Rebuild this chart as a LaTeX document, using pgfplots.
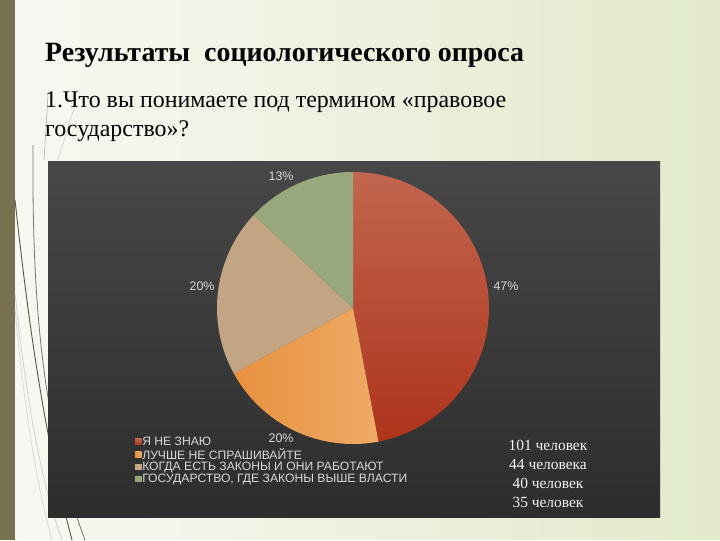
\documentclass[border=0pt]{standalone}
\usepackage{pgfplots}
\pgfplotsset{compat=1.18}
\usepackage{fontspec}
\setmainfont{Liberation Serif}
\setsansfont{Liberation Sans}
\definecolor{bgL}{HTML}{F8F8F3}
\definecolor{bgR}{HTML}{E2EACB}
\definecolor{oliveC}{HTML}{787150}
\definecolor{oliveD}{HTML}{5A5440}
\definecolor{panelT}{HTML}{474747}
\definecolor{panelB}{HTML}{2D2D2D}
\definecolor{redT}{HTML}{C2664F}
\definecolor{redB}{HTML}{AE331B}
\definecolor{orangeA}{HTML}{E8913F}
\definecolor{orangeB}{HTML}{EEAA66}
\definecolor{tanC}{HTML}{C3A583}
\definecolor{greenC}{HTML}{97A87D}
\definecolor{lbl}{HTML}{D9D9D9}
\begin{document}
\begin{tikzpicture}[x=1bp,y=1bp]
\shade[left color=bgL, right color=bgR] (0,0) rectangle (720,540);
\fill[oliveC] (0,0) rectangle (15,540);
% decorative curves
\draw[gray!35, line width=0.8bp] (15,247) .. controls (25,150) and (40,60) .. (62,0);
\draw[gray!30, line width=0.8bp] (15,232) .. controls (22,150) and (35,60) .. (52,0);
\draw[oliveD, line width=0.9bp] (15,340) .. controls (25,250) and (40,120) .. (72,0);
\draw[oliveD!80, line width=0.8bp] (33,395) .. controls (32,250) and (40,120) .. (85,0);
\draw[gray!70, line width=0.5bp] (48,445) -- (44,380);
\draw[gray!40, line width=0.5bp] (58,380) -- (75,435);
% panel
\shade[top color=panelT, bottom color=panelB] (48,22) rectangle (660,378);
% titles
\node[anchor=base west, inner sep=0pt, font=\bfseries\fontsize{28}{32}\selectfont] at (45,478) {Результаты\ \ социологического опроса};
\node[anchor=base west, inner sep=0pt, font=\fontsize{24}{28}\selectfont] at (45,432) {1.Что вы понимаете под термином «правовое};
\node[anchor=base west, inner sep=0pt, font=\fontsize{24}{28}\selectfont] at (45,403) {государство»?};
% counts
\foreach \yy/\tt in {89.5/101 человек, 70/44 человека, 51/40 человек, 32/35 человек}
  \node[anchor=base, inner sep=0pt, text=white!92!gray, font=\fontsize{15.5}{18}\selectfont] at (548,\yy) {\tt};
\coordinate (pc) at (353,232);
\begin{axis}[at={(pc)}, anchor=center, width=272bp, height=272bp, scale only axis,
  xmin=-1, xmax=1, ymin=-1, ymax=1, hide axis, clip=false,
  legend cell align=left,
  legend image code/.code={\fill[#1] (0bp,-3.2bp) rectangle (6.5bp,3.2bp);},
  legend style={at={(-0.3125,0.0368)}, anchor=north west, draw=none, fill=none,
    font=\sffamily\fontsize{12.2}{12.5}\selectfont, text=lbl, row sep=0.3bp,
    nodes={inner sep=0.6bp, text=lbl}, /tikz/every even column/.append style={column sep=1bp}},
]
\addplot[draw=none, top color=redT, bottom color=redB, domain={90}:{90-3.6*47}, samples=90, variable=\t] ({cos(\t)},{sin(\t)}) -- (0,0) -- cycle;
\addlegendentry{Я НЕ ЗНАЮ}
\addplot[draw=none, left color=orangeA, right color=orangeB, domain={90-3.6*47}:{90-3.6*67}, samples=50, variable=\t] ({cos(\t)},{sin(\t)}) -- (0,0) -- cycle;
\addlegendentry{ЛУЧШЕ НЕ СПРАШИВАЙТЕ}
\addplot[draw=none, fill=tanC, domain={90-3.6*67}:{90-3.6*87}, samples=50, variable=\t] ({cos(\t)},{sin(\t)}) -- (0,0) -- cycle;
\addlegendentry{КОГДА ЕСТЬ ЗАКОНЫ И ОНИ РАБОТАЮТ}
\addplot[draw=none, fill=greenC, domain={90-3.6*87}:{90-3.6*100}, samples=40, variable=\t] ({cos(\t)},{sin(\t)}) -- (0,0) -- cycle;
\addlegendentry{ГОСУДАРСТВО, ГДЕ ЗАКОНЫ ВЫШЕ ВЛАСТИ}
\node[text=lbl, font=\sffamily\fontsize{12.5}{13}\selectfont] at (axis cs:1.125,0.162) {47\%};
\node[text=lbl, font=\sffamily\fontsize{12.5}{13}\selectfont] at (axis cs:-0.529,-0.956) {20\%};
\node[text=lbl, font=\sffamily\fontsize{12.5}{13}\selectfont] at (axis cs:-1.11,0.162) {20\%};
\node[text=lbl, font=\sffamily\fontsize{12.5}{13}\selectfont] at (axis cs:-0.529,0.971) {13\%};
\end{axis}
\end{tikzpicture}
\end{document}
